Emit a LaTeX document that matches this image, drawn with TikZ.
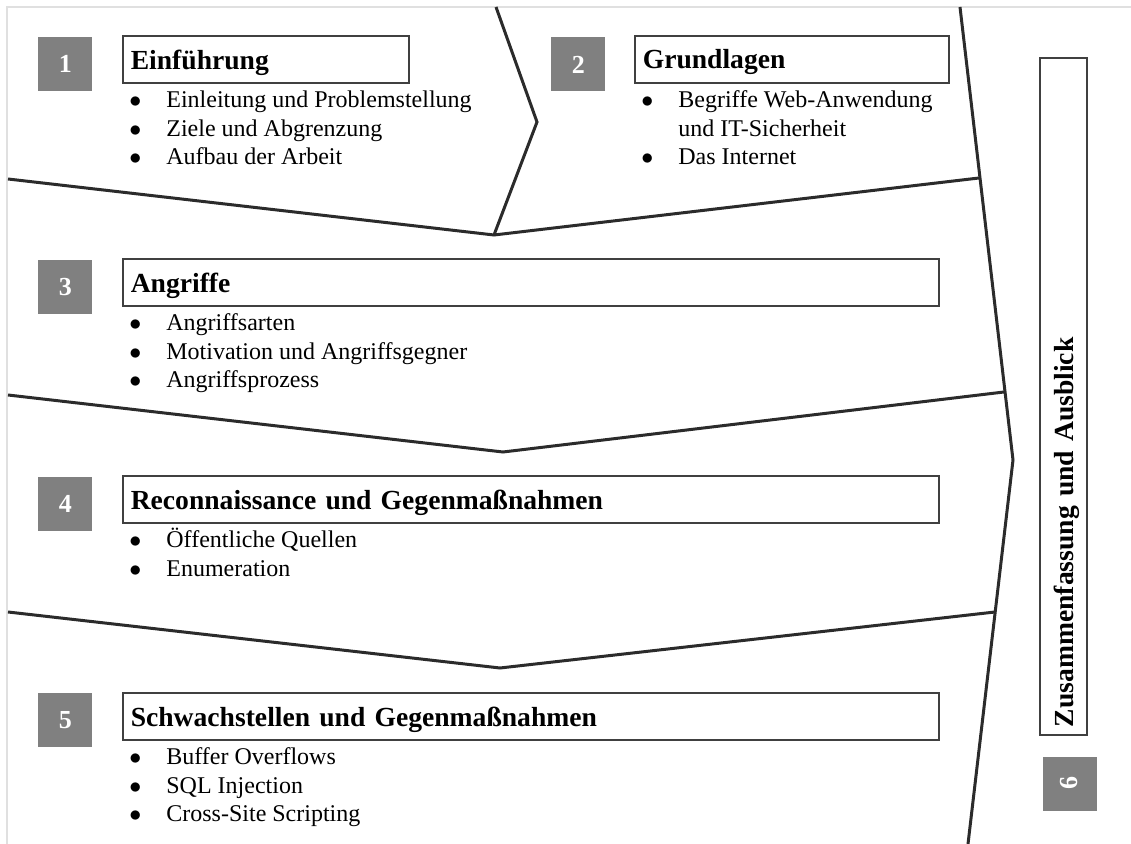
\documentclass[tikz,border=0pt]{standalone}
\usepackage{fontspec}
\setmainfont{Liberation Serif}
\usetikzlibrary{positioning}
\definecolor{numgray}{HTML}{808080}
\definecolor{linegray}{HTML}{2B2B2B}
\newcommand{\bodyfont}{\fontsize{12}{14.25}\selectfont}
\newcommand{\headfont}{\fontsize{13.8}{16}\selectfont\bfseries}
\newcommand{\bulletrows}[1]{\begin{tabular}{@{}l@{\hspace{12.5pt}}l@{}}#1\end{tabular}}
\newcommand{\bul}{$\bullet$}
\tikzset{
  numbox/.style={fill=numgray, text=white, inner sep=0pt, minimum size=27pt,
    font=\fontsize{13}{13}\selectfont\bfseries},
  titlebox/.style={draw=black!75, line width=0.8pt, inner xsep=4pt, inner ysep=0pt,
    minimum height=23.5pt, text width=#1, text depth=0pt, align=left, font=\headfont},
  itemlist/.style={inner sep=0pt, font=\bodyfont, align=left},
  sepline/.style={draw=linegray, line width=1.5pt, line join=miter},
  frame/.style={draw=black!12, line width=1pt}
}

\begin{document}
\begin{tikzpicture}[x=0.5pt, y=-0.5pt]
  \useasboundingbox (0,0) rectangle (1131,844);
  % page frame
  \draw[frame] (7,844) -- (7,7) -- (1131,7);

  % chevron borders
  \coordinate (c0) at (496,7);
  \coordinate (c1) at (537,122);
  \coordinate (v1) at (494,235);
  \coordinate (v2) at (503,452);
  \coordinate (v3) at (500,668);
  \coordinate (r0) at (960,7);
  \coordinate (r1) at (1013,460);
  \coordinate (r2) at (968,844);
  \draw[sepline] (c0) -- (c1) -- (v1);
  \draw[sepline] (r0) -- (r1) -- (r2);
  \draw[sepline] (8,179) -- (v1) -- (979,178);
  \draw[sepline] (8,395) -- (v2) -- (1004,392);
  \draw[sepline] (8,612) -- (v3) -- (995,612);

  % chapter 1
  \node[numbox, anchor=north west] (sq1) at (38,37) {1};
  \node[titlebox=135pt, anchor=north west] (t1) at (122,35) {Einführung};
  \node[itemlist, below right=2pt and 3.5pt of t1.south west] (l1) {\bulletrows{
    \bul & Einleitung und Problemstellung\\
    \bul & Ziele und Abgrenzung\\
    \bul & Aufbau der Arbeit}};

  % chapter 2
  \node[numbox, anchor=north west] (sq2) at (551,37) {2};
  \node[titlebox=149pt, anchor=north west] (t2) at (634,35) {Grundlagen};
  \node[itemlist, below right=2pt and 3.5pt of t2.south west] (l2) {\bulletrows{
    \bul & Begriffe Web-Anwendung\\
         & und IT-Sicherheit\\
    \bul & Das Internet}};

  % chapter 3
  \node[numbox, anchor=north west] (sq3) at (38,260) {3};
  \node[titlebox=400pt, anchor=north west] (t3) at (122,258) {Angriffe};
  \node[itemlist, below right=2pt and 3.5pt of t3.south west] (l3) {\bulletrows{
    \bul & Angriffsarten\\
    \bul & Motivation und Angriffsgegner\\
    \bul & Angriffsprozess}};

  % chapter 4
  \node[numbox, anchor=north west] (sq4) at (38,477) {4};
  \node[titlebox=400pt, anchor=north west] (t4) at (122,475) {Reconnaissance und Gegenmaßnahmen};
  \node[itemlist, below right=2pt and 3.5pt of t4.south west] (l4) {\bulletrows{
    \bul & Öffentliche Quellen\\
    \bul & Enumeration}};

  % chapter 5
  \node[numbox, anchor=north west] (sq5) at (38,693) {5};
  \node[titlebox=400pt, anchor=north west] (t5) at (122,692) {Schwachstellen und Gegenmaßnahmen};
  \node[itemlist, below right=2pt and 3.5pt of t5.south west] (l5) {\bulletrows{
    \bul & Buffer Overflows\\
    \bul & SQL Injection\\
    \bul & Cross-Site Scripting}};

  % chapter 6
  \node[titlebox=330.5pt, rotate=90] (t6) at (1063.5,396.5) {Zusammenfassung und Ausblick};
  \node[numbox, rotate=90] (sq6) at (1069.5,783.5) {6};
\end{tikzpicture}
\end{document}
